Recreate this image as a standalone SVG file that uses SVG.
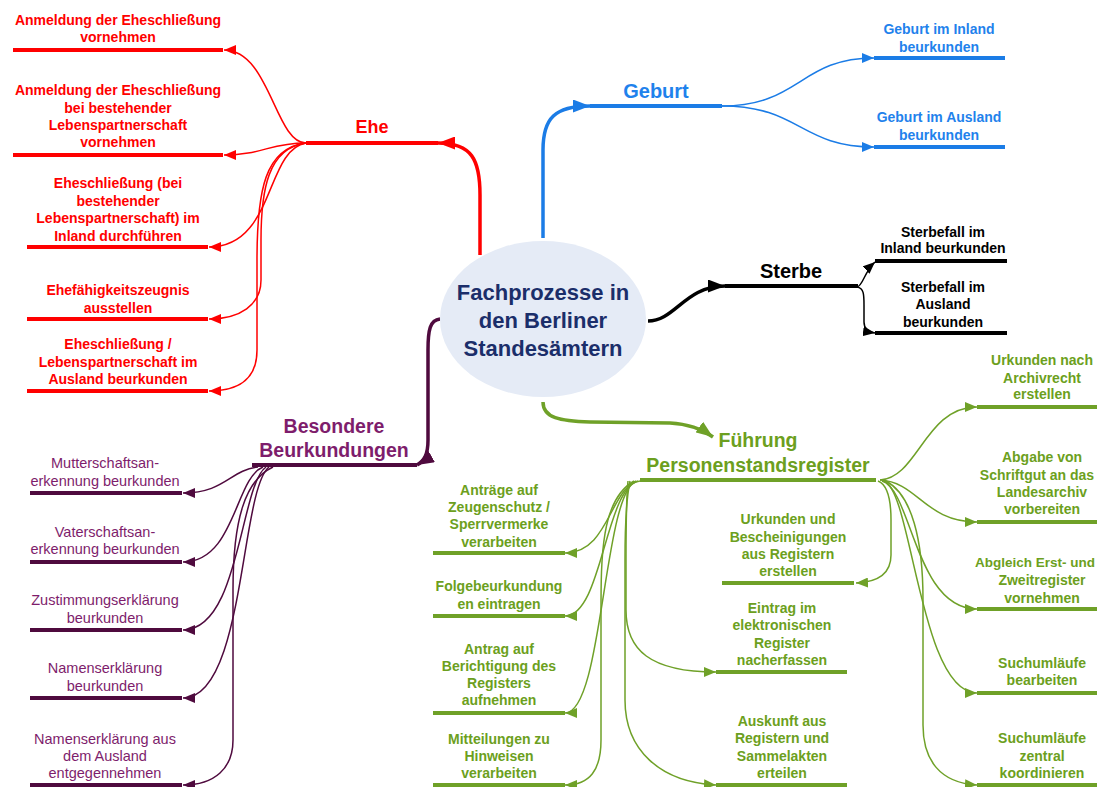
<svg xmlns="http://www.w3.org/2000/svg" width="1097" height="787" viewBox="0 0 1097 787">
<style>
text{font-family:"Liberation Sans",Arial,sans-serif;text-anchor:middle}
.sub{font-size:14px;font-weight:bold}
.psub{font-size:14.5px}
.main{font-size:20px;font-weight:bold}
.red{fill:#ff0000}.blue{fill:#1f82ec}.blk{fill:#000}.pur{fill:#7e1d6c}.grn{fill:#6c9f20}
.ln{stroke-width:4;fill:none}
.lr{stroke:#ff0000}.lb{stroke:#1b7ce6}.lk{stroke:#000}.lp{stroke:#4f0a3e}.lg{stroke:#6fa128}
.thin{fill:none;stroke-width:1.5}
.thick{fill:none;stroke-width:3.5}
</style>
<defs>
<marker id="sR" viewBox="0 0 12 10" refX="12" refY="5" markerWidth="12" markerHeight="10" markerUnits="userSpaceOnUse" orient="auto"><path d="M0,0L12,5L0,10z" fill="#ff0000"/></marker>
<marker id="sB" viewBox="0 0 12 10" refX="12" refY="5" markerWidth="12" markerHeight="10" markerUnits="userSpaceOnUse" orient="auto"><path d="M0,0L12,5L0,10z" fill="#1b7ce6"/></marker>
<marker id="sK" viewBox="0 0 12 10" refX="12" refY="5" markerWidth="12" markerHeight="10" markerUnits="userSpaceOnUse" orient="auto"><path d="M0,0L12,5L0,10z" fill="#000"/></marker>
<marker id="sP" viewBox="0 0 12 10" refX="12" refY="5" markerWidth="12" markerHeight="10" markerUnits="userSpaceOnUse" orient="auto"><path d="M0,0L12,5L0,10z" fill="#4f0a3e"/></marker>
<marker id="sG" viewBox="0 0 12 10" refX="12" refY="5" markerWidth="12" markerHeight="10" markerUnits="userSpaceOnUse" orient="auto"><path d="M0,0L12,5L0,10z" fill="#6fa128"/></marker>
<marker id="bR" viewBox="0 0 17 13" refX="17" refY="6.5" markerWidth="17" markerHeight="13" markerUnits="userSpaceOnUse" orient="auto"><path d="M0,0L17,6.5L0,13z" fill="#ff0000"/></marker>
<marker id="bB" viewBox="0 0 17 13" refX="17" refY="6.5" markerWidth="17" markerHeight="13" markerUnits="userSpaceOnUse" orient="auto"><path d="M0,0L17,6.5L0,13z" fill="#1b7ce6"/></marker>
<marker id="bK" viewBox="0 0 17 13" refX="17" refY="6.5" markerWidth="17" markerHeight="13" markerUnits="userSpaceOnUse" orient="auto"><path d="M0,0L17,6.5L0,13z" fill="#000"/></marker>
<marker id="bP" viewBox="0 0 17 13" refX="17" refY="6.5" markerWidth="17" markerHeight="13" markerUnits="userSpaceOnUse" orient="auto"><path d="M0,0L17,6.5L0,13z" fill="#4f0a3e"/></marker>
<marker id="bG" viewBox="0 0 17 13" refX="17" refY="6.5" markerWidth="17" markerHeight="13" markerUnits="userSpaceOnUse" orient="auto"><path d="M0,0L17,6.5L0,13z" fill="#6fa128"/></marker>
</defs>
<rect width="1097" height="787" fill="#ffffff"/>

<g id="connectors">
<path class="thick lr" d="M480,255 L480,195 C480,160 472,143 438,143" marker-end="url(#bR)"/>
<path class="thick lb" d="M543,238 L543,150 C543,118 555,106 590,106" marker-end="url(#bB)"/>
<path class="thick lk" d="M648,321 C675,321 685,286 725,286" marker-end="url(#bK)"/>
<path class="thick lp" d="M440,319 C430,320 428,330 428,350 L428,440 C428,455 424,461 417,465" marker-end="url(#bP)"/>
<path class="thick lg" d="M543,402 C543,418 560,421 590,422 L670,423 C690,424 702,429 713,437" marker-end="url(#bG)"/>

<path class="thin lr" d="M306,143 C275,143 270,50 224,50" marker-end="url(#sR)"/>
<path class="thin lr" d="M306,143 C270,143 262,155 224,155" marker-end="url(#sR)"/>
<path class="thin lr" d="M306,143 C265,150 275,247 209,247" marker-end="url(#sR)"/>
<path class="thin lr" d="M306,143 C268,148 261,190 261,240 L261,280 C261,305 240,319 209,319" marker-end="url(#sR)"/>
<path class="thin lr" d="M306,143 C265,148 257,190 257,260 L257,350 C257,378 240,391 209,391" marker-end="url(#sR)"/>

<path class="thin lb" d="M722,106 C800,106 800,58 874,58" marker-end="url(#sB)"/>
<path class="thin lb" d="M722,106 C800,106 800,147 874,147" marker-end="url(#sB)"/>

<path class="thin lk" d="M857,287 C863,286 864,272 875,262" marker-end="url(#sK)"/>
<path class="thin lk" d="M857,287 C864,288 864,295 864,305 L864,322 C864,328 868,332 875,333" marker-end="url(#sK)"/>

<path class="thin lp" d="M258,467 C230,470 225,493 183,493" marker-end="url(#sP)"/>
<path class="thin lp" d="M263,467 C235,478 235,562 183,562" marker-end="url(#sP)"/>
<path class="thin lp" d="M266,467 C240,485 240,630 183,630" marker-end="url(#sP)"/>
<path class="thin lp" d="M269,467 C240,490 245,698 183,698" marker-end="url(#sP)"/>
<path class="thin lp" d="M273,467 C245,480 233,520 233,590 L233,740 C233,768 215,785 183,785" marker-end="url(#sP)"/>

<path class="thin lg" d="M640,481 C610,485 610,553 565,553" marker-end="url(#sG)"/>
<path class="thin lg" d="M638,481 C605,490 602,616 565,616" marker-end="url(#sG)"/>
<path class="thin lg" d="M636,481 C603,495 603,713 565,713" marker-end="url(#sG)"/>
<path class="thin lg" d="M634,481 C600,500 601,560 601,620 L601,740 C601,770 590,785 565,785" marker-end="url(#sG)"/>
<path class="thin lg" d="M628,481 C626,500 626,530 626,560 L626,610 C626,650 650,672 716,672" marker-end="url(#sG)"/>
<path class="thin lg" d="M630,481 C626,500 625,530 625,560 L625,700 C625,750 660,782 716,785" marker-end="url(#sG)"/>
<path class="thin lg" d="M878,481 C888,485 891,500 891,520 L891,555 C891,572 880,582 856,583" marker-end="url(#sG)"/>
<path class="thin lg" d="M880,480 C918,478 925,407 977,407" marker-end="url(#sG)"/>
<path class="thin lg" d="M880,480 C918,482 925,522 977,522" marker-end="url(#sG)"/>
<path class="thin lg" d="M882,481 C912,490 915,609 977,609" marker-end="url(#sG)"/>
<path class="thin lg" d="M884,481 C912,490 920,693 977,693" marker-end="url(#sG)"/>
<path class="thin lg" d="M886,481 C912,495 923,540 923,600 L923,725 C923,760 940,783 977,785" marker-end="url(#sG)"/>
</g>

<g id="n-center">
<ellipse cx="543" cy="319" rx="103" ry="78" fill="#e5ebf6"/>
<text style="font-size:22px;font-weight:bold;fill:#1b2e6a"><tspan x="543" y="300">Fachprozesse in</tspan><tspan x="543" y="328">den Berliner</tspan><tspan x="543" y="356">Standesämtern</tspan></text>
</g>

<g id="n-ehe">
<line class="ln lr" x1="306" y1="143" x2="438" y2="143"/>
<text class="red" style="font-size:18px;font-weight:bold" x="372" y="133">Ehe</text>
</g>
<g id="n-ehe-1">
<line class="ln lr" x1="13" y1="50" x2="223" y2="50"/>
<text class="sub red"><tspan x="118" y="25">Anmeldung der Eheschließung</tspan><tspan x="118" y="42">vornehmen</tspan></text>
</g>
<g id="n-ehe-2">
<line class="ln lr" x1="13" y1="155" x2="223" y2="155"/>
<text class="sub red"><tspan x="118" y="95">Anmeldung der Eheschließung</tspan><tspan x="118" y="113">bei bestehender</tspan><tspan x="118" y="130">Lebenspartnerschaft</tspan><tspan x="118" y="147">vornehmen</tspan></text>
</g>
<g id="n-ehe-3">
<line class="ln lr" x1="27" y1="247" x2="208" y2="247"/>
<text class="sub red"><tspan x="118" y="188">Eheschließung (bei</tspan><tspan x="118" y="206">bestehender</tspan><tspan x="118" y="223">Lebenspartnerschaft) im</tspan><tspan x="118" y="241">Inland durchführen</tspan></text>
</g>
<g id="n-ehe-4">
<line class="ln lr" x1="27" y1="319" x2="208" y2="319"/>
<text class="sub red"><tspan x="118" y="295">Ehefähigkeitszeugnis</tspan><tspan x="118" y="313">ausstellen</tspan></text>
</g>
<g id="n-ehe-5">
<line class="ln lr" x1="27" y1="391" x2="208" y2="391"/>
<text class="sub red"><tspan x="118" y="349">Eheschließung /</tspan><tspan x="118" y="367">Lebenspartnerschaft im</tspan><tspan x="118" y="384">Ausland beurkunden</tspan></text>
</g>

<g id="n-geburt">
<line class="ln lb" x1="590" y1="106" x2="722" y2="106"/>
<text class="main blue" x="656" y="98">Geburt</text>
</g>
<g id="n-geburt-1">
<line class="ln lb" x1="874" y1="58" x2="1005" y2="58"/>
<text class="sub blue"><tspan x="939" y="34">Geburt im Inland</tspan><tspan x="939" y="52">beurkunden</tspan></text>
</g>
<g id="n-geburt-2">
<line class="ln lb" x1="874" y1="147" x2="1005" y2="147"/>
<text class="sub blue"><tspan x="939" y="122">Geburt im Ausland</tspan><tspan x="939" y="140">beurkunden</tspan></text>
</g>

<g id="n-sterbe">
<line class="ln lk" x1="725" y1="286" x2="858" y2="286"/>
<text class="main blk" x="791" y="278">Sterbe</text>
</g>
<g id="n-sterbe-1">
<line class="ln lk" x1="875" y1="261" x2="1007" y2="261"/>
<text class="sub blk"><tspan x="943" y="237">Sterbefall im</tspan><tspan x="943" y="253">Inland beurkunden</tspan></text>
</g>
<g id="n-sterbe-2">
<line class="ln lk" x1="875" y1="333" x2="1007" y2="333"/>
<text class="sub blk"><tspan x="943" y="292">Sterbefall im</tspan><tspan x="943" y="309">Ausland</tspan><tspan x="943" y="327">beurkunden</tspan></text>
</g>

<g id="n-besondere">
<line class="ln lp" x1="252" y1="465" x2="417" y2="465"/>
<text class="pur" style="font-size:19.5px;font-weight:bold"><tspan x="334" y="433">Besondere</tspan><tspan x="334" y="457">Beurkundungen</tspan></text>
</g>
<g id="n-bes-1">
<line class="ln lp" x1="30" y1="493" x2="182" y2="493"/>
<text class="psub pur"><tspan x="105" y="468">Mutterschaftsan-</tspan><tspan x="105" y="486">erkennung beurkunden</tspan></text>
</g>
<g id="n-bes-2">
<line class="ln lp" x1="30" y1="562" x2="182" y2="562"/>
<text class="psub pur"><tspan x="105" y="537">Vaterschaftsan-</tspan><tspan x="105" y="554">erkennung beurkunden</tspan></text>
</g>
<g id="n-bes-3">
<line class="ln lp" x1="30" y1="630" x2="182" y2="630"/>
<text class="psub pur"><tspan x="105" y="605">Zustimmungserklärung</tspan><tspan x="105" y="623">beurkunden</tspan></text>
</g>
<g id="n-bes-4">
<line class="ln lp" x1="30" y1="698" x2="182" y2="698"/>
<text class="psub pur"><tspan x="105" y="673">Namenserklärung</tspan><tspan x="105" y="691">beurkunden</tspan></text>
</g>
<g id="n-bes-5">
<line class="ln lp" x1="30" y1="785" x2="182" y2="785"/>
<text class="psub pur"><tspan x="105" y="744">Namenserklärung aus</tspan><tspan x="105" y="761">dem Ausland</tspan><tspan x="105" y="778">entgegennehmen</tspan></text>
</g>

<g id="n-fuehrung">
<line class="ln lg" x1="640" y1="480" x2="876" y2="480"/>
<text class="grn" style="font-size:19.5px;font-weight:bold"><tspan x="758" y="447">Führung</tspan><tspan x="758" y="472">Personenstandsregister</tspan></text>
</g>
<g id="n-pr-1">
<line class="ln lg" x1="433" y1="553" x2="565" y2="553"/>
<text class="sub grn"><tspan x="499" y="495">Anträge auf</tspan><tspan x="499" y="512">Zeugenschutz /</tspan><tspan x="499" y="529">Sperrvermerke</tspan><tspan x="499" y="547">verarbeiten</tspan></text>
</g>
<g id="n-pr-2">
<line class="ln lg" x1="433" y1="616" x2="565" y2="616"/>
<text class="sub grn"><tspan x="499" y="591">Folgebeurkundung</tspan><tspan x="499" y="609">en eintragen</tspan></text>
</g>
<g id="n-pr-3">
<line class="ln lg" x1="433" y1="713" x2="565" y2="713"/>
<text class="sub grn"><tspan x="499" y="654">Antrag auf</tspan><tspan x="499" y="671">Berichtigung des</tspan><tspan x="499" y="688">Registers</tspan><tspan x="499" y="705">aufnehmen</tspan></text>
</g>
<g id="n-pr-4">
<line class="ln lg" x1="433" y1="785" x2="565" y2="785"/>
<text class="sub grn"><tspan x="499" y="744">Mitteilungen zu</tspan><tspan x="499" y="761">Hinweisen</tspan><tspan x="499" y="778">verarbeiten</tspan></text>
</g>
<g id="n-pr-5">
<line class="ln lg" x1="722" y1="583" x2="854" y2="583"/>
<text class="sub grn"><tspan x="788" y="524">Urkunden und</tspan><tspan x="788" y="542">Bescheinigungen</tspan><tspan x="788" y="559">aus Registern</tspan><tspan x="788" y="576">erstellen</tspan></text>
</g>
<g id="n-pr-6">
<line class="ln lg" x1="716" y1="672" x2="847" y2="672"/>
<text class="sub grn"><tspan x="782" y="613">Eintrag im</tspan><tspan x="782" y="630">elektronischen</tspan><tspan x="782" y="648">Register</tspan><tspan x="782" y="665">nacherfassen</tspan></text>
</g>
<g id="n-pr-7">
<line class="ln lg" x1="716" y1="785" x2="847" y2="785"/>
<text class="sub grn"><tspan x="782" y="726">Auskunft aus</tspan><tspan x="782" y="743">Registern und</tspan><tspan x="782" y="761">Sammelakten</tspan><tspan x="782" y="778">erteilen</tspan></text>
</g>
<g id="n-pr-8">
<line class="ln lg" x1="977" y1="407" x2="1097" y2="407"/>
<text class="sub grn"><tspan x="1042" y="365">Urkunden nach</tspan><tspan x="1042" y="383">Archivrecht</tspan><tspan x="1042" y="399">erstellen</tspan></text>
</g>
<g id="n-pr-9">
<line class="ln lg" x1="977" y1="522" x2="1097" y2="522"/>
<text class="sub grn"><tspan x="1042" y="462">Abgabe von</tspan><tspan x="1037" y="480">Schriftgut an das</tspan><tspan x="1042" y="497">Landesarchiv</tspan><tspan x="1042" y="514">vorbereiten</tspan></text>
</g>
<g id="n-pr-10">
<line class="ln lg" x1="977" y1="609" x2="1097" y2="609"/>
<text class="sub grn"><tspan x="1035" y="567" style="font-size:13.5px">Abgleich Erst- und</tspan><tspan x="1042" y="585">Zweitregister</tspan><tspan x="1042" y="603">vornehmen</tspan></text>
</g>
<g id="n-pr-11">
<line class="ln lg" x1="977" y1="693" x2="1097" y2="693"/>
<text class="sub grn"><tspan x="1042" y="668">Suchumläufe</tspan><tspan x="1042" y="685">bearbeiten</tspan></text>
</g>
<g id="n-pr-12">
<line class="ln lg" x1="977" y1="785" x2="1097" y2="785"/>
<text class="sub grn"><tspan x="1042" y="743">Suchumläufe</tspan><tspan x="1042" y="761">zentral</tspan><tspan x="1042" y="778">koordinieren</tspan></text>
</g>
</svg>
